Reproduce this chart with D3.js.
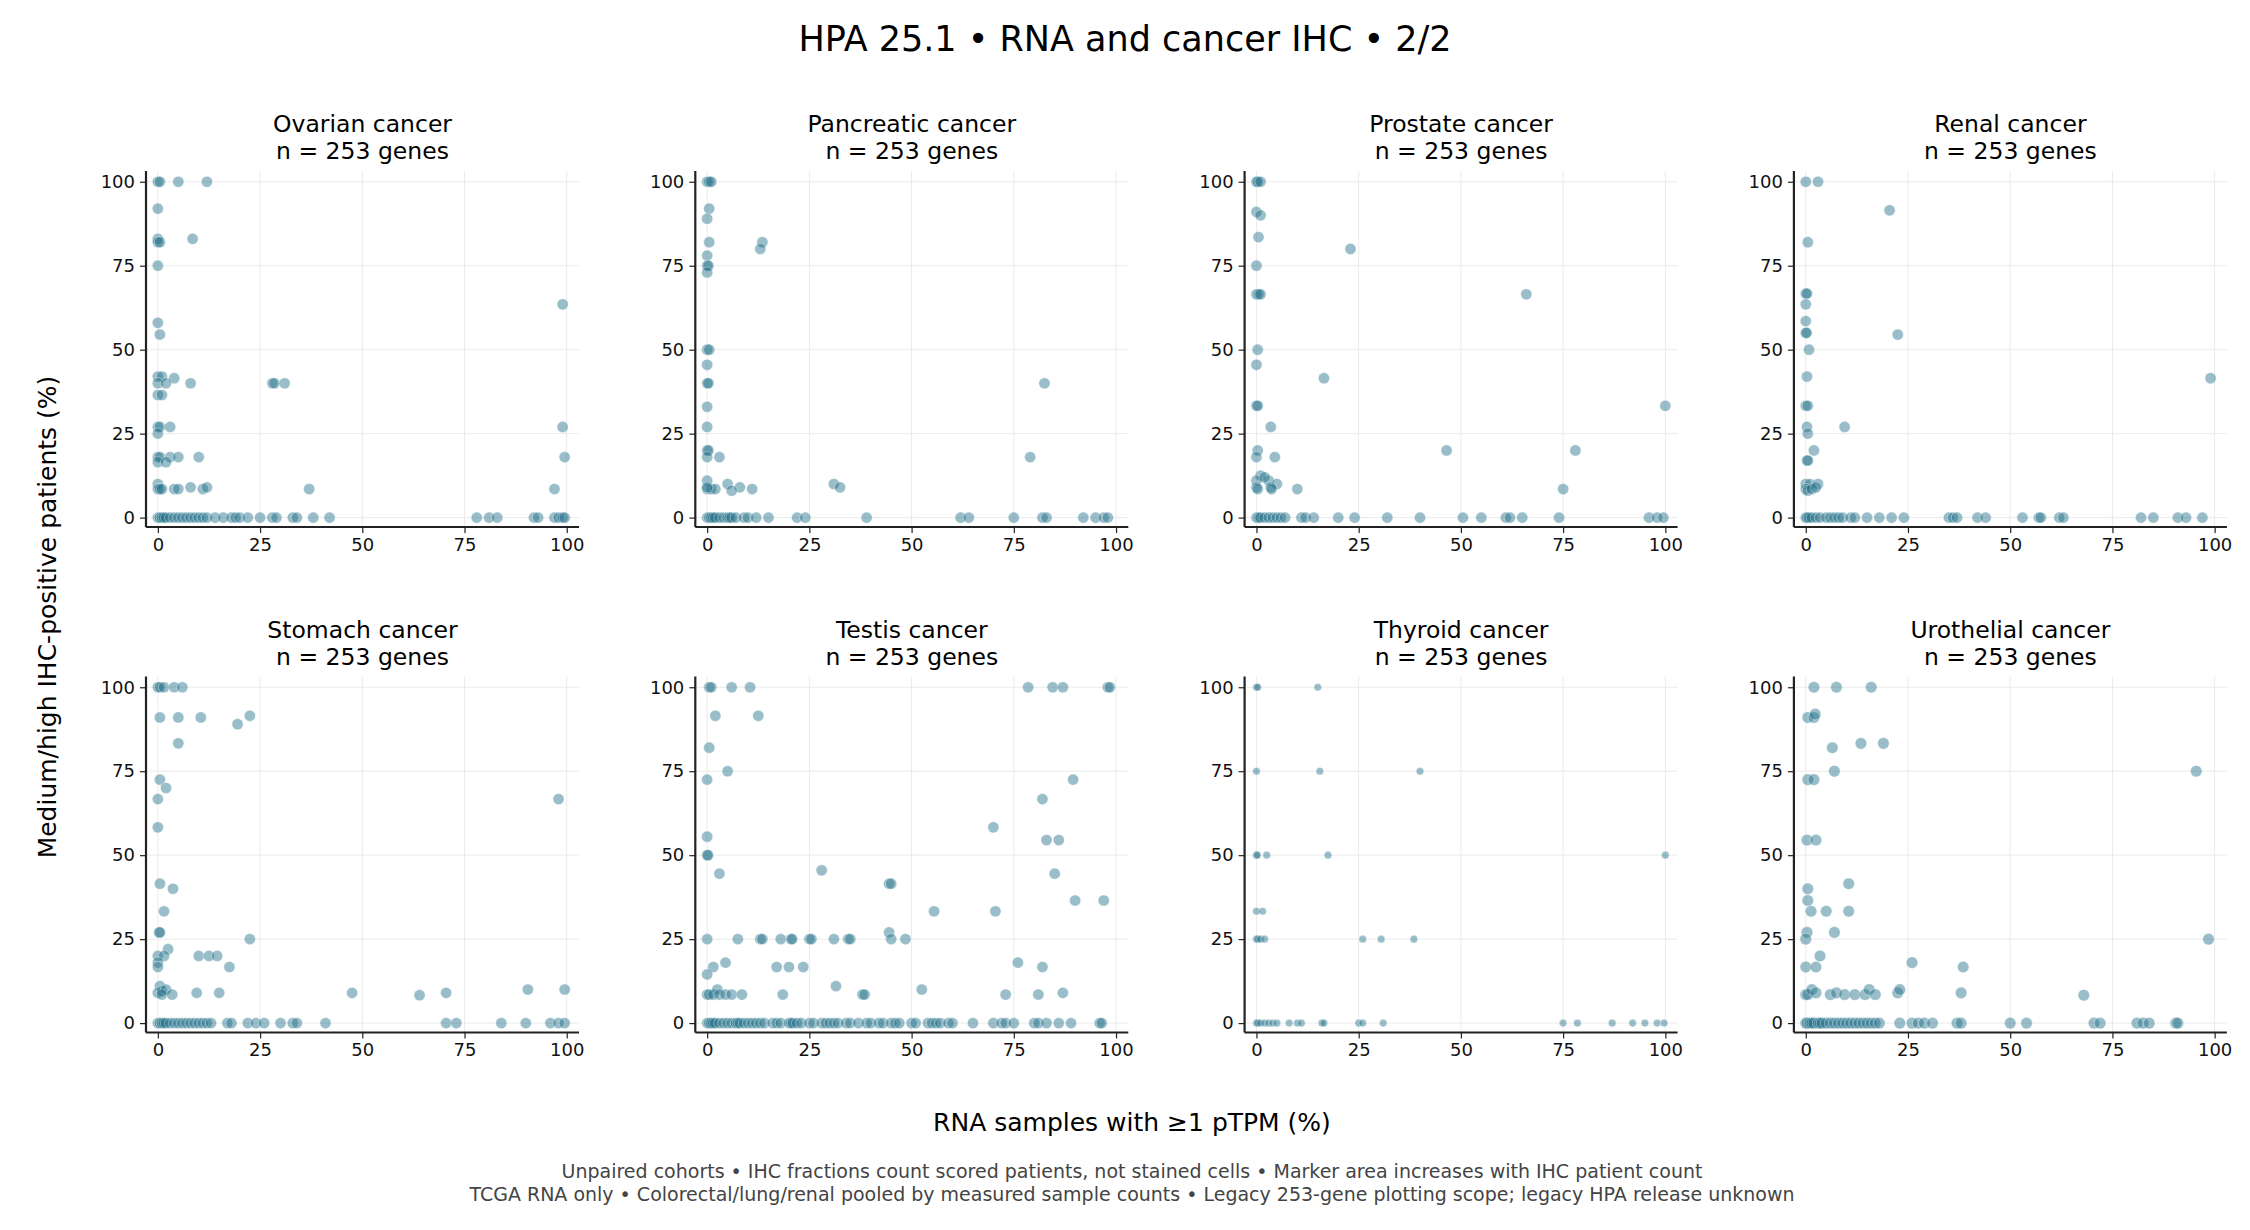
<!DOCTYPE html>
<html><head><meta charset="utf-8">
<script src="https://cdn.jsdelivr.net/npm/d3@7"></script>
<style>body{margin:0;background:#fff}text{font-family:"DejaVu Sans",sans-serif}</style>
</head><body>
<script>
// data: [RNA % samples >=1 pTPM, IHC medium/high %]
var cancers = ["Ovarian cancer","Pancreatic cancer","Prostate cancer","Renal cancer","Stomach cancer","Testis cancer","Thyroid cancer","Urothelial cancer"];
var geneCount = 253;
var tickVals = [0,25,50,75,100];

var ovarianPts = [[0,100],[0.5,100],[5,100],[12,100],[0,92],[0,83],[0,82],[0.5,82],[8.5,83],[0,75],[99,63.5],[0,58],[0.5,54.5],[0,42],[1,42],[4,41.5],[0,40],[2,40],[8,40],[28,40],[28.5,40],[31,40],[0,36.5],[1,36.5],[0,27],[0.5,27],[3,27],[0,25],[99,27],[99.5,18],[0,18],[0.5,18],[3,18],[5,18],[10,18],[0,16.5],[2,16.5],[0,10],[0,8.5],[0.5,8.5],[1,8.5],[4,8.5],[5,8.5],[8,9],[11,8.5],[12,9],[37,8.5],[97,8.5]];
var ovarianZero = [0,0.5,1,1.5,2,3,4,5,6,7,8,9,10,11,12,14,16,18,19,20,22,25,28,29,33,34,38,42,78,81,83,92,93,97,98,99,99.5];

var pancreaticPts = [[0,100],[0.5,100],[1,100],[0.5,92],[0,89],[0.5,82],[13.5,82],[13,80],[0,78],[0,75],[0.3,75],[0,73],[0,50],[0.5,50],[0,45.5],[0,40],[0.3,40],[0,33],[0,27],[0,20],[0.3,20],[0,18],[3,18],[82.5,40],[79,18],[5,10],[31,10],[32.5,9],[8,9],[0,11],[0,8.5],[1,8.5],[2,8.5],[6,8],[11,8.5],[0,9]];
var pancreaticZero = [0,0.5,1,1.5,2,3,4,5,5.5,6,7,9,10,12,15,22,24,39,62,64,75,82,83,92,95,97,98];

var prostatePts = [[0,100],[0.3,100],[1,100],[0,91],[1,90],[0.5,83.5],[23,80],[0,75],[0,66.5],[0.5,66.5],[1,66.5],[66,66.5],[0.3,50],[0,45.5],[16.5,41.5],[0,33.3],[0.3,33.3],[100,33.3],[3.5,27],[0.3,20],[46.5,20],[78,20],[0,18],[4.5,18],[1,12.5],[0,11],[3,11],[2,12],[5,10],[0,9],[0.3,8.5],[3.5,9],[3.7,8.5],[10,8.5],[75,8.5]];
var prostateZero = [0,0.5,1,2,3,4,5,6,7,11,12,14,20,24,32,40,50.5,55,61,62,65,74,96,98,99.5];

var renalPts = [[0,100],[3,100],[20.5,91.5],[0.5,82],[0,66.7],[0.3,66.7],[0,63.5],[0,58.5],[0,55],[0.2,55],[22.5,54.5],[0.8,50],[0.3,42],[99,41.5],[0,33.3],[0.5,33.3],[0.3,27],[9.5,27],[0.5,25],[2,20],[0.3,17],[0.5,17],[0,10],[1,10],[3,10],[0,8.5],[0.5,8],[1.5,8.5],[2.5,9]];
var renalZero = [0,0.3,0.8,1.5,2.5,3.5,5,6,7,8,9,11,12,15,18,21,24,35,36,37,42,44,53,57,57.5,62,63,82,85,91,93,97];

var stomachPts = [[0,100],[0.5,100],[1.5,100],[4,100],[6,100],[0.5,91],[5,91],[10.5,91],[22.5,91.5],[19.5,89],[5,83.3],[0.5,72.5],[2,70],[0,66.7],[98,66.7],[0,58.3],[0.5,41.5],[3.7,40],[1.5,33.3],[0.3,27],[0.5,27],[2.5,22],[0,20],[1.5,20],[10,20],[12.5,20],[14.5,20],[0,18],[0,16.7],[17.5,16.7],[22.5,25],[0.5,11],[0,9],[1,9.5],[2,10],[1,8.5],[3.5,8.5],[9.5,9],[15,9],[47.5,9],[64,8.3],[70.5,9],[90.5,10],[99.5,10]];
var stomachZero = [0,0.5,1,1.5,2,3,4,5,6,7,8,9,10,11,12,13,17,18,22,24,26,30,33,34,41,70.5,73,84,90,96,98,99.5];

var testisPts = [[0.5,100],[1,100],[6,100],[10.5,100],[78.5,100],[84.5,100],[87,100],[98,100],[98.5,100],[2,91.5],[12.5,91.5],[0.5,82],[0,72.5],[5,75],[89.5,72.5],[82,66.7],[70,58.3],[0,55.5],[0,50],[0.2,50],[83,54.5],[86,54.5],[3,44.5],[28,45.5],[44.5,41.5],[45,41.5],[85,44.5],[90,36.5],[97,36.5],[55.5,33.3],[70.5,33.3],[0,25],[7.5,25],[13,25],[13.5,25],[18,25],[20.5,25],[20.8,25],[25,25],[25.5,25],[31,25],[34.5,25],[35,25],[44.5,27],[45,25],[48.5,25],[1.5,16.7],[4.5,18],[17,16.7],[20,16.7],[23.5,16.7],[76,18],[82,16.7],[0,14.5],[31.5,11],[52.5,10],[0,8.5],[0.5,8.5],[1.5,8.5],[2.5,10],[3,8.5],[4.5,8.5],[6,8.5],[8.5,8.5],[18.5,8.5],[38,8.5],[38.5,8.5],[73,8.5],[81,8.5],[87,9]];
var testisZero = [0,0.5,1,1.5,2,3,4,5,6,7,7.5,8,9,10,11,12,13,14,16,17,18,20,20.5,21,22,23,25,26,28,29,30,31,32,34,35,37,39,40,42,43,45,46,47,50,51,54,55,56,57,59,60,65,70,72,73,75,80,81,83,86,89,96,96.5];

var thyroidPts = [[0,100],[0.3,100],[15,100],[0,75],[15.5,75],[40,75],[0,50],[0.2,50],[2.5,50],[17.5,50],[100,50],[0,33.3],[1.5,33.3],[0,25],[0.3,25],[1,25],[2,25],[26,25],[30.5,25],[38.5,25]];
var thyroidZero = [0,0.3,1,2,3,4,5,8,10,11,16,16.5,25,26,31,75,78.5,87,92,95,98,99.7];

var urothelialPts = [[2,100],[7.5,100],[16,100],[0.5,91],[2,91],[2.3,92],[6.5,82],[13.5,83.3],[19,83.3],[7,75],[95.5,75],[0.5,72.5],[2,72.5],[0.3,54.5],[2.5,54.5],[10.5,41.5],[0.5,40],[0.5,36.5],[1.3,33.3],[5,33.3],[10.5,33.3],[0.3,27],[7,27],[0,25],[98.5,25],[3.5,20],[26,18],[38.5,16.7],[0,16.7],[2.5,16.7],[22.5,9],[23,10],[38,9],[68,8.3],[0,8.5],[0.5,8.5],[1.5,10],[2.5,9],[6,8.5],[7.5,9],[9.5,8.5],[12,8.5],[14.5,8.5],[15.5,10],[17,8.5]];
var urothelialZero = [0,0.3,1,1.5,2,3,3.5,4,5,6,7,8,9,10,11,12,13,14,15,16,17,18,23,26,27.5,29,31,37,38,50,54,70.5,72,81,82.5,84,90.5,91];

// marker radius per panel (IHC patient count drives area)
var markerR = [5.6,5.6,5.6,5.6,5.6,5.6,3.8,5.8];

var allPts = [ovarianPts,pancreaticPts,prostatePts,renalPts,stomachPts,testisPts,thyroidPts,urothelialPts];
var allZero = [ovarianZero,pancreaticZero,prostateZero,renalZero,stomachZero,testisZero,thyroidZero,urothelialZero];

var W = 2250, H = 1230;
var svg = d3.select('body').append('svg').attr('width', W).attr('height', H);

svg.append('text').attr('x', W/2).attr('y', 51).attr('text-anchor','middle')
	.attr('font-size', 35).text('HPA 25.1 \u2022 RNA and cancer IHC \u2022 2/2');

var pw = 433, ph = 356;
cancers.forEach(function(name, i){
	var col = i % 4, row = Math.floor(i / 4);
	var left = 146 + col * 549.3, top = 171 + row * 505.5;
	var g = svg.append('g').attr('transform', 'translate(' + left + ',' + top + ')');
	var x = d3.scaleLinear().domain([-2.9, 103]).range([0, pw]);
	var y = d3.scaleLinear().domain([-2.8, 103.2]).range([ph, 0]);

	g.selectAll('.gx').data(tickVals).enter().append('line')
		.attr('x1', function(d){ return x(d); }).attr('x2', function(d){ return x(d); })
		.attr('y1', 0).attr('y2', ph).attr('stroke', '#ebebeb').attr('stroke-width', 1);
	g.selectAll('.gy').data(tickVals).enter().append('line')
		.attr('y1', function(d){ return y(d); }).attr('y2', function(d){ return y(d); })
		.attr('x1', 0).attr('x2', pw).attr('stroke', '#ebebeb').attr('stroke-width', 1);

	var pts = allPts[i].concat(allZero[i].map(function(v){ return [v, 0]; }));
	g.selectAll('circle').data(pts).enter().append('circle')
		.attr('cx', function(d){ return x(d[0]); })
		.attr('cy', function(d){ return y(d[1]); })
		.attr('r', markerR[i])
		.attr('fill', '#1f6e88').attr('fill-opacity', 0.45)
		.attr('stroke', '#ffffff').attr('stroke-opacity', 0.6).attr('stroke-width', 0.6);

	var xa = g.append('g').attr('transform', 'translate(0,' + ph + ')')
		.call(d3.axisBottom(x).tickValues(tickVals).tickSize(6).tickPadding(5));
	var ya = g.append('g').call(d3.axisLeft(y).tickValues(tickVals).tickSize(6).tickPadding(5));
	[xa, ya].forEach(function(a){
		a.select('.domain').attr('stroke', '#222').attr('stroke-width', 2.2);
		a.selectAll('.tick line').attr('stroke', '#222').attr('stroke-width', 1.2);
		a.selectAll('.tick text').attr('font-size', 18).attr('fill', '#111')
			.style('font-family', '"DejaVu Sans", sans-serif');
	});
	ya.select('.domain').attr('d', 'M0,0V' + ph);
	xa.select('.domain').attr('d', 'M0,0H' + pw);

	var cx = pw / 2;
	g.append('text').attr('x', cx).attr('y', -39).attr('text-anchor','middle')
		.attr('font-size', 23.5).text(name);
	g.append('text').attr('x', cx).attr('y', -12).attr('text-anchor','middle')
		.attr('font-size', 23.5).text('n = ' + geneCount + ' genes');
});

svg.append('text').attr('x', 1132).attr('y', 1131).attr('text-anchor','middle')
	.attr('font-size', 25).text('RNA samples with \u22651 pTPM (%)');
svg.append('text').attr('transform', 'translate(56,617) rotate(-90)').attr('text-anchor','middle')
	.attr('font-size', 25).text('Medium/high IHC-positive patients (%)');

svg.append('text').attr('x', 1132).attr('y', 1184 - 6).attr('text-anchor','middle')
	.attr('font-size', 19).attr('fill', '#444')
	.text('Unpaired cohorts \u2022 IHC fractions count scored patients, not stained cells \u2022 Marker area increases with IHC patient count');
svg.append('text').attr('x', 1132).attr('y', 1207 - 6).attr('text-anchor','middle')
	.attr('font-size', 19).attr('fill', '#444')
	.text('TCGA RNA only \u2022 Colorectal/lung/renal pooled by measured sample counts \u2022 Legacy 253-gene plotting scope; legacy HPA release unknown');
</script>
</body></html>
